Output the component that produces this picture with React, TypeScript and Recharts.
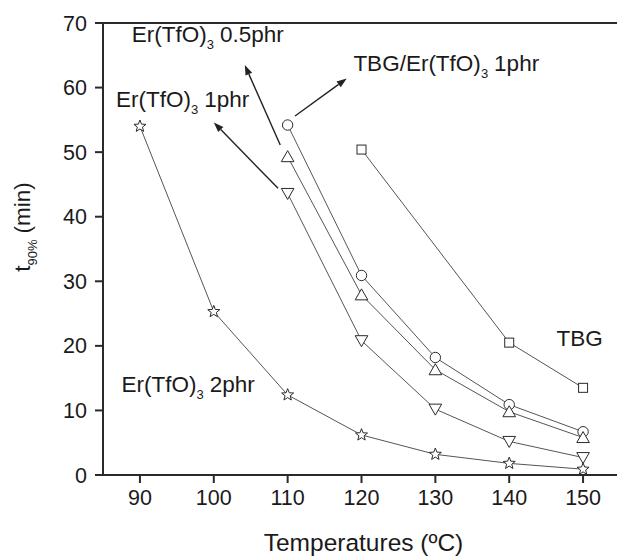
import React from 'react';
import { LineChart, Line, XAxis, YAxis, ReferenceLine, ReferenceDot } from 'recharts';

// temperatures (°C) and t90% (min) per formulation
const temps = [90, 100, 110, 120, 130, 140, 150];
const tbg = [null, null, null, 50.4, null, 20.5, 13.5];
const tbgEr1 = [null, null, 54.2, 30.9, 18.2, 10.9, 6.7];
const er05 = [null, null, 49.3, 27.9, 16.3, 9.8, 5.8];
const er1 = [null, null, 43.6, 20.8, 10.2, 5.2, 2.7];
const er2 = [54.0, 25.3, 12.4, 6.2, 3.2, 1.8, 0.9];

const xTicks = [90, 100, 110, 120, 130, 140, 150];
const yTicks = [0, 10, 20, 30, 40, 50, 60, 70];

// annotation text, anchored at data coordinates (left, baseline)
const labels = [
    { main: 'Er(TfO)', sub: '3', rest: '0.5phr', x: 88.9, y: 67.0 },
    { main: 'TBG/Er(TfO)', sub: '3', rest: '1phr', x: 118.9, y: 62.5 },
    { main: 'Er(TfO)', sub: '3', rest: '1phr', x: 86.75, y: 57.0 },
    { main: 'TBG', sub: '', rest: '', x: 146.4, y: 20.0 },
    { main: 'Er(TfO)', sub: '3', rest: '2phr', x: 87.5, y: 12.9 },
];

// arrows: from point near the series to tip near its label
const arrows = [
    { from: [109.0, 51.1], to: [104.2, 63.5] },
    { from: [111.0, 55.6], to: [118.0, 61.4] },
    { from: [108.7, 44.4], to: [100.0, 54.6] },
];

const data = temps.map((t, i) => ({
    t,
    tbg: tbg[i],
    tbgEr1: tbgEr1[i],
    er05: er05[i],
    er1: er1[i],
    er2: er2[i],
}));

const FONT = '"Liberation Sans", Arial, Helvetica, sans-serif';
const INK = '#2a2a2a';
const LINE = '#555';

const makeDot = (kind: string) => (props: any) => {
    const { cx, cy, index } = props;
    const key = `${kind}-${index}`;
    if (cx == null || cy == null || props.value == null) return <g key={key} />;
    const common = { fill: '#fff', stroke: INK, strokeWidth: 1 };
    if (kind === 'square') {
        return <rect key={key} x={cx - 4.5} y={cy - 4.5} width={9} height={9} {...common} />;
    }
    if (kind === 'circle') {
        return <circle key={key} cx={cx} cy={cy} r={5.2} {...common} />;
    }
    if (kind === 'up') {
        return <polygon key={key} points={`${cx},${cy - 6} ${cx + 6.3},${cy + 5} ${cx - 6.3},${cy + 5}`} {...common} />;
    }
    if (kind === 'down') {
        return <polygon key={key} points={`${cx},${cy + 6} ${cx + 6.3},${cy - 5} ${cx - 6.3},${cy - 5}`} {...common} />;
    }
    // star
    const pts: string[] = [];
    for (let k = 0; k < 10; k++) {
        const r = k % 2 === 0 ? 6.3 : 2.7;
        const a = -Math.PI / 2 + (k * Math.PI) / 5;
        pts.push(`${cx + r * Math.cos(a)},${cy + r * Math.sin(a)}`);
    }
    return <polygon key={key} points={pts.join(' ')} {...common} />;
};

const Arrow = (props: any) => {
    const { x1, y1, x2, y2 } = props;
    const dx = x2 - x1;
    const dy = y2 - y1;
    const len = Math.sqrt(dx * dx + dy * dy) || 1;
    const ux = dx / len;
    const uy = dy / len;
    const hl = 10;
    const hw = 3.6;
    const bx = x2 - ux * hl;
    const by = y2 - uy * hl;
    return (
        <g>
            <line x1={x1} y1={y1} x2={bx} y2={by} stroke="#222" strokeWidth={1.4} />
            <polygon
                points={`${x2},${y2} ${bx - uy * hw},${by + ux * hw} ${bx + uy * hw},${by - ux * hw}`}
                fill="#222"
            />
        </g>
    );
};

const labelShape = (l: any) => (props: any) => (
    <text x={props.cx} y={props.cy} fontFamily={FONT} fontSize={22.5} fill="#1a1a1a">
        <tspan>{l.main}</tspan>
        {l.sub ? <tspan dy={7} fontSize={13}>{l.sub}</tspan> : null}
        {l.rest ? <tspan dy={l.sub ? -7 : 0} dx={6} fontSize={22.5}>{l.rest}</tspan> : null}
    </text>
);

const YTitle = (props: any) => {
    const vb = props.viewBox || {};
    const x = 30;
    const y = (vb.y ?? 23) + (vb.height ?? 452) / 2 - 22;
    return (
        <text
            x={x}
            y={y}
            transform={`rotate(-90, ${x}, ${y})`}
            textAnchor="middle"
            fontFamily={FONT}
            fontSize={22.5}
            fill="#1a1a1a"
        >
            <tspan>t</tspan>
            <tspan dy={7} fontSize={13}>90%</tspan>
            <tspan dy={-7} dx={6} fontSize={22.5}>(min)</tspan>
        </text>
    );
};

const XTitle = (props: any) => {
    const vb = props.viewBox || {};
    const x = (vb.x ?? 103) + (vb.width ?? 517) / 2 + 2;
    const y = (vb.y ?? 475) + 76;
    return (
        <text x={x} y={y} textAnchor="middle" fontFamily={FONT} fontSize={24.5} fill="#1a1a1a">
            Temperatures (ºC)
        </text>
    );
};

const tickStyle = { fill: '#1a1a1a', fontSize: 21.5, fontFamily: FONT };

export default function App() {
    return (
        <div style={{ position: 'absolute', left: 0, top: 0, width: 617, height: 556, overflow: 'hidden', background: '#fff' }}>
            <LineChart width={620} height={556} data={data} margin={{ top: 23, right: 0, bottom: 0, left: 0 }}>
                <XAxis
                    dataKey="t"
                    type="number"
                    domain={[85, 155]}
                    ticks={xTicks}
                    height={81}
                    tick={tickStyle}
                    tickSize={8}
                    tickMargin={7}
                    stroke={INK}
                    strokeWidth={2}
                    allowDataOverflow
                    label={{ content: XTitle }}
                />
                <YAxis
                    type="number"
                    domain={[0, 70]}
                    ticks={yTicks}
                    width={103}
                    tick={tickStyle}
                    tickSize={8}
                    tickMargin={8}
                    stroke={INK}
                    strokeWidth={2}
                    label={{ content: YTitle }}
                />
                <ReferenceLine y={70} stroke={INK} strokeWidth={2} />
                {arrows.map((a, i) => (
                    <ReferenceLine
                        key={`arrow-${i}`}
                        segment={[
                            { x: a.from[0], y: a.from[1] },
                            { x: a.to[0], y: a.to[1] },
                        ]}
                        shape={Arrow}
                    />
                ))}
                <Line dataKey="tbg" stroke={LINE} strokeWidth={1} connectNulls dot={makeDot('square')} isAnimationActive={false} />
                <Line dataKey="tbgEr1" stroke={LINE} strokeWidth={1} connectNulls dot={makeDot('circle')} isAnimationActive={false} />
                <Line dataKey="er05" stroke={LINE} strokeWidth={1} connectNulls dot={makeDot('up')} isAnimationActive={false} />
                <Line dataKey="er1" stroke={LINE} strokeWidth={1} connectNulls dot={makeDot('down')} isAnimationActive={false} />
                <Line dataKey="er2" stroke={LINE} strokeWidth={1} connectNulls dot={makeDot('star')} isAnimationActive={false} />
                {labels.map((l, i) => (
                    <ReferenceDot key={`lbl-${i}`} x={l.x} y={l.y} r={1} shape={labelShape(l)} />
                ))}
            </LineChart>
        </div>
    );
}
